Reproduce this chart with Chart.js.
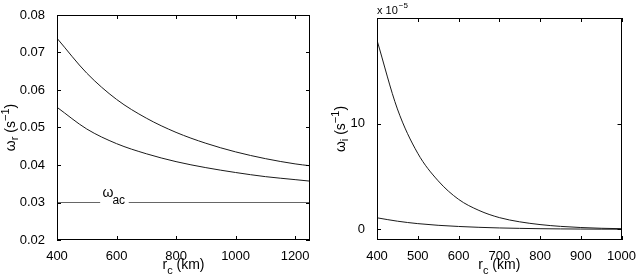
<!DOCTYPE html>
<html>
<head>
<meta charset="utf-8">
<script src="https://cdn.jsdelivr.net/npm/chart.js@4.4.0/dist/chart.umd.min.js"></script>
<style>
  html, body { margin: 0; padding: 0; background: #fff; }
  #wrap { position: relative; width: 637px; height: 276px; }
  .box { position: absolute; top: 0; height: 276px; }
</style>
</head>
<body>
<div id="wrap">
  <div class="box" style="left:0;width:320px"><canvas id="myChart1"></canvas></div>
  <div class="box" style="left:320px;width:317px"><canvas id="myChart2"></canvas></div>
</div>
<script>
// left panel: omega_r vs r_c
var rcLeft = [400, 500, 600, 700, 800, 900, 1000, 1100, 1200, 1250];
var omegaRUpper = [0.0738, 0.0645, 0.0575, 0.0525, 0.0487, 0.0458, 0.0435, 0.0417, 0.0403, 0.0398];
var omegaRLower = [0.0554, 0.0496, 0.0457, 0.0430, 0.0409, 0.0393, 0.0380, 0.0369, 0.0361, 0.0357];
var omegaAcX = [400, 545, null, 641, 1250];
var omegaAc = 0.03;
var leftXTicks = [400, 600, 800, 1000, 1200];
var leftYTicks = [0.02, 0.03, 0.04, 0.05, 0.06, 0.07, 0.08];

// right panel: omega_i (x 1e-5) vs r_c
var rcRight = [400, 450, 500, 550, 600, 650, 700, 750, 800, 850, 900, 950, 1000];
var omegaIUpper = [17.9, 11.4, 7.2, 4.6, 2.85, 1.8, 1.12, 0.72, 0.46, 0.29, 0.18, 0.11, 0.07];
var omegaILower = [1.1, 0.78, 0.55, 0.39, 0.28, 0.2, 0.14, 0.1, 0.07, 0.05, 0.035, 0.025, 0.02];
var rightXTicks = [400, 500, 600, 700, 800, 900, 1000];
var rightYTicks = [0, 10];

var FONT = '"Liberation Sans", Arial, sans-serif';
var TICK_SIZE = 13;

function pts(xs, ys) {
    return xs.map(function (x, i) { return { x: x, y: ys[i] }; });
}

// text with sub/superscripts, drawn piece by piece
function rich(ctx, parts, x, y) {
    var w = 0;
    parts.forEach(function (p) {
        ctx.font = p.s + 'px ' + FONT;
        p.w = ctx.measureText(p.t).width;
        w += p.w;
    });
    var cx = x - w / 2;
    parts.forEach(function (p) {
        ctx.font = p.s + 'px ' + FONT;
        ctx.fillText(p.t, cx, y + (p.dy || 0));
        cx += p.w;
    });
}

var framePlugin = {
    id: 'frame',
    afterDraw: function (chart, args, opts) {
        var ctx = chart.ctx, a = chart.chartArea;
        var xs = chart.scales.x, ys = chart.scales.y;
        ctx.save();
        ctx.strokeStyle = '#000';
        ctx.lineWidth = 1;
        ctx.strokeRect(Math.round(a.left) + 0.5, Math.round(a.top) + 0.5,
            Math.round(a.right - a.left) - 1, Math.round(a.bottom - a.top) - 1);
        ctx.beginPath();
        opts.xTicks.forEach(function (v) {
            var p = Math.round(xs.getPixelForValue(v)) + 0.5;
            ctx.moveTo(p, a.bottom); ctx.lineTo(p, a.bottom - 4);
            ctx.moveTo(p, a.top); ctx.lineTo(p, a.top + 4);
        });
        opts.yTicks.forEach(function (v) {
            var p = Math.round(ys.getPixelForValue(v)) + 0.5;
            ctx.moveTo(a.left, p); ctx.lineTo(a.left + 4, p);
            ctx.moveTo(a.right, p); ctx.lineTo(a.right - 4, p);
        });
        ctx.stroke();

        ctx.fillStyle = '#000';
        ctx.textBaseline = 'alphabetic';
        var midX = (a.left + a.right) / 2, midY = (a.top + a.bottom) / 2;
        rich(ctx, [{ t: 'r', s: 14 }, { t: 'c', s: 11, dy: 5 }, { t: ' (km)', s: 14 }], midX, 269);
        ctx.save();
        ctx.translate(opts.yTitleX, midY);
        ctx.rotate(-Math.PI / 2);
        rich(ctx, [{ t: 'ω', s: 14 }, { t: opts.sub, s: 11, dy: 3 }, { t: ' (s', s: 14 },
            { t: '−1', s: 11, dy: -6 }, { t: ')', s: 14 }], 0, 3);
        ctx.restore();
        if (opts.extra) opts.extra(ctx, chart);
        ctx.restore();
    }
};

function baseOptions(xMin, xMax, xTicks, yMin, yMax, yTicks, yFmt, padRight, padTop) {
    return {
        responsive: true,
        maintainAspectRatio: false,
        animation: false,
        layout: { padding: { top: padTop, right: padRight, left: 0, bottom: 0 } },
        plugins: { legend: { display: false }, tooltip: { enabled: false } },
        elements: { point: { radius: 0 }, line: { borderWidth: 1, cubicInterpolationMode: 'monotone' } },
        scales: {
            x: {
                type: 'linear', min: xMin, max: xMax,
                grid: { display: false }, border: { display: false },
                afterBuildTicks: function (s) { s.ticks = xTicks.map(function (v) { return { value: v }; }); },
                afterFit: function (s) { s.height = 36; },
                ticks: {
                    color: '#000', padding: 1, maxRotation: 0, autoSkip: false,
                    font: { family: FONT, size: TICK_SIZE },
                    callback: function (v) { return String(v); }
                }
            },
            y: {
                type: 'linear', min: yMin, max: yMax,
                grid: { display: false }, border: { display: false },
                afterBuildTicks: function (s) { s.ticks = yTicks.map(function (v) { return { value: v }; }); },
                afterFit: function (s) { s.width = 57; },
                ticks: { color: '#000', padding: 4, autoSkip: false, font: { family: FONT, size: TICK_SIZE }, callback: yFmt }
            }
        }
    };
}

var ctx1 = document.getElementById('myChart1').getContext('2d');
var opts1 = baseOptions(400, 1250, leftXTicks, 0.02, 0.08, leftYTicks,
    function (v) { return v.toFixed(2); }, 10, 15);
opts1.plugins.frame = {
    xTicks: leftXTicks, yTicks: leftYTicks, sub: 'r', yTitleX: 12,
    extra: function (ctx, chart) {
        var xs = chart.scales.x, ys = chart.scales.y;
        var gx = (xs.getPixelForValue(omegaAcX[1]) + xs.getPixelForValue(omegaAcX[3])) / 2;
        var gy = ys.getPixelForValue(omegaAc);
        ctx.font = '14px ' + FONT;
        ctx.fillText('ω', gx - 12, gy - 6);
        ctx.font = '12px ' + FONT;
        ctx.fillText('ac', gx - 2, gy + 1);
    }
};
var myChart1 = new Chart(ctx1, {
    type: 'line',
    data: {
        datasets: [{
            data: pts(rcLeft, omegaRUpper),
            borderColor: '#1a1a1a'
        },
        {
            data: pts(rcLeft, omegaRLower),
            borderColor: '#1a1a1a'
        },
        {
            data: omegaAcX.map(function (x) { return x === null ? { x: 593, y: null } : { x: x, y: omegaAc }; }),
            borderColor: '#666',
            spanGaps: false,
            cubicInterpolationMode: 'default',
            tension: 0
        }]
    },
    options: opts1,
    plugins: [framePlugin]
});

var ctx2 = document.getElementById('myChart2').getContext('2d');
var opts2 = baseOptions(400, 1000, rightXTicks, -1, 20, rightYTicks,
    function (v) { return String(v); }, 13, 18);
opts2.plugins.frame = {
    xTicks: rightXTicks, yTicks: rightYTicks, sub: 'i', yTitleX: 22,
    extra: function (ctx, chart) {
        var a = chart.chartArea;
        ctx.font = '11px ' + FONT;
        ctx.fillText('x 10', a.left, a.top - 4);
        var w = ctx.measureText('x 10').width;
        ctx.font = '8px ' + FONT;
        ctx.fillText('−5', a.left + w + 1, a.top - 10);
    }
};
var myChart2 = new Chart(ctx2, {
    type: 'line',
    data: {
        datasets: [{
            data: pts(rcRight, omegaIUpper),
            borderColor: '#1a1a1a'
        },
        {
            data: pts(rcRight, omegaILower),
            borderColor: '#1a1a1a'
        }]
    },
    options: opts2,
    plugins: [framePlugin]
});
</script>
</body>
</html>
